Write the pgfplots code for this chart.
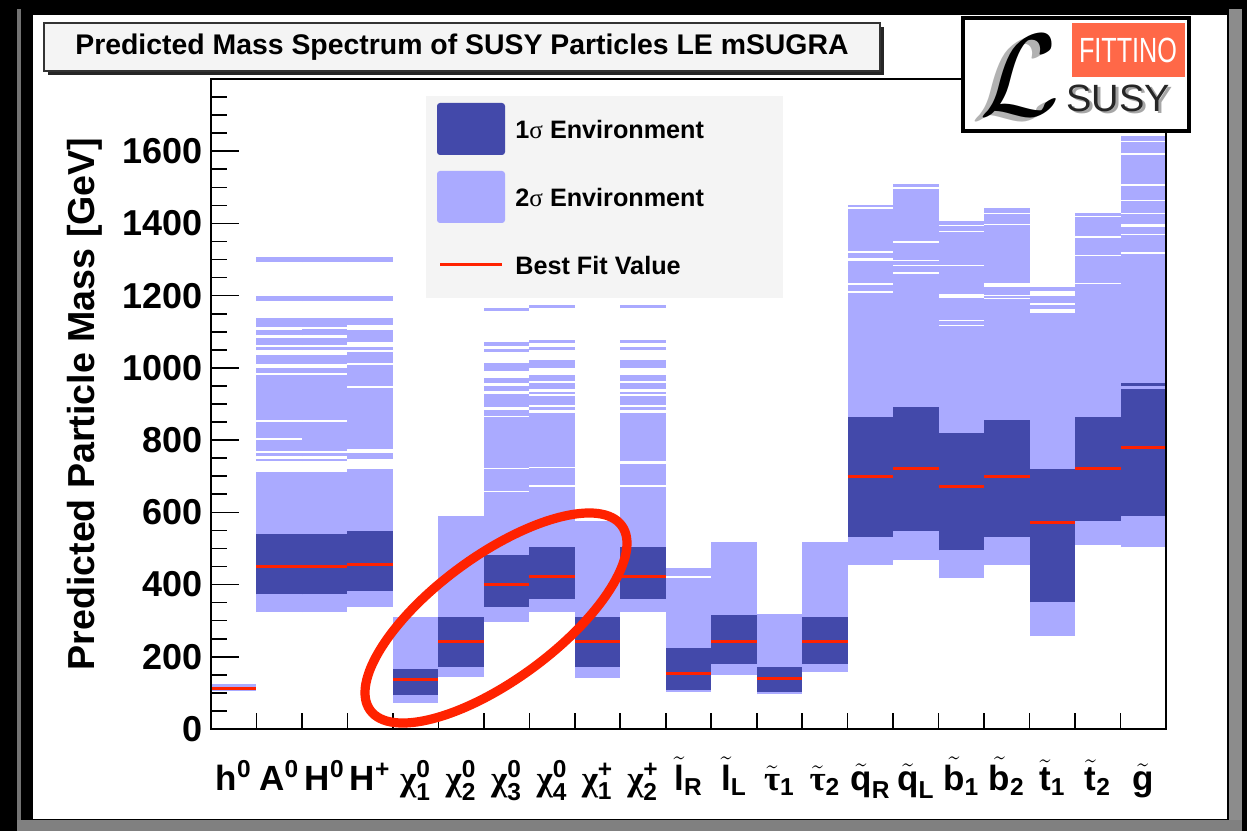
\documentclass[border=0pt]{standalone}
\usepackage{fontspec}
\setmainfont{Liberation Sans}
\newfontfamily\grk{Liberation Serif}
\usepackage{amsmath}
\usepackage{graphicx}
\usepackage{pgfplots}
\pgfplotsset{compat=1.18}
\usetikzlibrary{decorations.pathmorphing}

\definecolor{sigone}{RGB}{67,73,170}
\definecolor{sigtwo}{RGB}{170,170,255}
\definecolor{bestfit}{RGB}{255,34,0}
\definecolor{panelgray}{RGB}{244,244,244}
\definecolor{fittino}{RGB}{255,104,72}

% tick label helpers
\newcommand{\bsf}[1]{\text{\bfseries #1}}
\newcommand{\chiino}[2]{$\text{\grk χ}^{\bsf{#1}}_{\bsf{#2}}$}
\newcommand{\sferm}[2]{$\tilde{\bsf{#1}}_{\bsf{#2}}$}
\newcommand{\stau}[1]{$\tilde{\text{\grk τ}}_{\bsf{#1}}$}

% best fit masses [GeV], one per particle (bin i spans i..i+1)
\pgfplotstableread{
x   m
0   112
1   451
2   451
3   456
4   136
5   242
6   400
7   421
8   242
9   421
10  154
11  241
12  141
13  241
14  700
15  722
16  672
17  700
18  573
19  722
20  779
21  779
}\bestfit

\begin{document}
\begin{tikzpicture}[x=0.5pt,y=0.5pt]
\useasboundingbox (0,0) rectangle (1247,831);
% frame
\fill[black] (0,0) rectangle (1247,831);
\fill[black!55] (17,0) rectangle (21,822);
\fill[black!45] (1229,0) rectangle (1242,822);
\fill[black!50] (17,0) rectangle (1242,11);
\fill[white] (33,12) rectangle (1227,816);

\begin{axis}[
  at={(105.5pt,51pt)}, anchor=south west,
  scale only axis, width=477.5pt, height=325pt,
  xmin=0, xmax=21, ymin=0, ymax=1800,
  unbounded coords=jump,
  axis on top,
  axis line style={line width=1pt},
  every tick/.style={black, line width=0.8pt},
  every major x tick/.append style={draw opacity=0},
  tick align=inside,
  xtick pos=bottom, ytick pos=left,
  xtick={0.5,1.5,...,20.5},
  minor xtick={1,2,...,20},
  ytick={0,200,...,1600},
  minor ytick={50,100,...,1750},
  major tick length=14pt, minor tick length=8pt,
  /pgf/number format/assume math mode=true,
  /pgf/number format/1000 sep={},
  yticklabel style={font=\bfseries\fontsize{18}{20}\selectfont, anchor=east, inner sep=0pt, xshift=-4pt},
  xticklabel style={font=\bfseries\fontsize{17.5}{20}\selectfont, anchor=base, inner sep=0pt, yshift=-30.5pt},
  xticklabels={
    {h\textsuperscript{0}}, {A\textsuperscript{0}}, {H\textsuperscript{0}}, {H\textsuperscript{+}},
    {\chiino{0}{1}}, {\chiino{0}{2}}, {\chiino{0}{3}}, {\chiino{0}{4}},
    {\chiino{+}{1}}, {\chiino{+}{2}},
    {\sferm{l}{R}}, {\sferm{l}{L}}, {\stau{1}}, {\stau{2}},
    {\sferm{q}{R}}, {\sferm{q}{L}}, {\sferm{b}{1}}, {\sferm{b}{2}},
    {\sferm{t}{1}}, {\sferm{t}{2}}, {\sferm{g}{}}},
  ylabel={Predicted Particle Mass [GeV]},
  every axis y label/.style={at={(axis description cs:-0.132,0.5)}, rotate=90, anchor=center,
    font=\bfseries\fontsize{18.8}{22}\selectfont},
]
% 2 sigma environment: vertical strips (bin centre, lower, upper)
\addplot[sigtwo, line width=22.74pt, line cap=butt] coordinates {
 (0.5,106) (0.5,124) (0.5,nan)
 (1.5,324) (1.5,712) (1.5,nan) (1.5,742) (1.5,748) (1.5,nan) (1.5,755) (1.5,763) (1.5,nan)
 (1.5,770) (1.5,799) (1.5,nan) (1.5,805) (1.5,849) (1.5,nan) (1.5,855) (1.5,979) (1.5,nan)
 (1.5,986) (1.5,999) (1.5,nan) (1.5,1012) (1.5,1035) (1.5,nan) (1.5,1049) (1.5,1057) (1.5,nan)
 (1.5,1063) (1.5,1084) (1.5,nan) (1.5,1090) (1.5,1104) (1.5,nan) (1.5,1113) (1.5,1137) (1.5,nan)
 (1.5,1185) (1.5,1200) (1.5,nan) (1.5,1293) (1.5,1308) (1.5,nan)
 (2.5,324) (2.5,712) (2.5,nan) (2.5,742) (2.5,748) (2.5,nan) (2.5,755) (2.5,763) (2.5,nan)
 (2.5,770) (2.5,849) (2.5,nan) (2.5,855) (2.5,979) (2.5,nan)
 (2.5,986) (2.5,999) (2.5,nan) (2.5,1012) (2.5,1035) (2.5,nan) (2.5,1049) (2.5,1057) (2.5,nan)
 (2.5,1063) (2.5,1084) (2.5,nan) (2.5,1090) (2.5,1108) (2.5,nan) (2.5,1113) (2.5,1137) (2.5,nan)
 (2.5,1185) (2.5,1200) (2.5,nan) (2.5,1293) (2.5,1308) (2.5,nan)
 (3.5,338) (3.5,719) (3.5,nan) (3.5,748) (3.5,764) (3.5,nan) (3.5,775) (3.5,944) (3.5,nan)
 (3.5,949) (3.5,1007) (3.5,nan) (3.5,1013) (3.5,1043) (3.5,nan) (3.5,1049) (3.5,1057) (3.5,nan)
 (3.5,1071) (3.5,1106) (3.5,nan) (3.5,1120) (3.5,1137) (3.5,nan) (3.5,1185) (3.5,1200) (3.5,nan)
 (3.5,1293) (3.5,1308) (3.5,nan)
 (4.5,73) (4.5,311) (4.5,nan)
 (5.5,145) (5.5,589) (5.5,nan)
 (6.5,297) (6.5,655) (6.5,nan) (6.5,659) (6.5,719) (6.5,nan) (6.5,724) (6.5,864) (6.5,nan)
 (6.5,868) (6.5,884) (6.5,nan) (6.5,892) (6.5,927) (6.5,nan) (6.5,935) (6.5,949) (6.5,nan)
 (6.5,958) (6.5,972) (6.5,nan) (6.5,991) (6.5,1013) (6.5,nan) (6.5,1044) (6.5,1051) (6.5,nan)
 (6.5,1062) (6.5,1071) (6.5,nan) (6.5,1157) (6.5,1165) (6.5,nan)
 (7.5,324) (7.5,670) (7.5,nan) (7.5,676) (7.5,722) (7.5,nan) (7.5,726) (7.5,876) (7.5,nan)
 (7.5,883) (7.5,891) (7.5,nan) (7.5,897) (7.5,921) (7.5,nan) (7.5,928) (7.5,934) (7.5,nan)
 (7.5,941) (7.5,957) (7.5,nan) (7.5,963) (7.5,979) (7.5,nan) (7.5,999) (7.5,1021) (7.5,nan)
 (7.5,1050) (7.5,1057) (7.5,nan) (7.5,1070) (7.5,1078) (7.5,nan) (7.5,1165) (7.5,1173) (7.5,nan)
 (8.5,140) (8.5,575) (8.5,nan)
 (9.5,324) (9.5,669) (9.5,nan) (9.5,676) (9.5,733) (9.5,nan) (9.5,741) (9.5,876) (9.5,nan)
 (9.5,883) (9.5,891) (9.5,nan) (9.5,897) (9.5,921) (9.5,nan) (9.5,928) (9.5,934) (9.5,nan)
 (9.5,941) (9.5,957) (9.5,nan) (9.5,963) (9.5,979) (9.5,nan) (9.5,999) (9.5,1021) (9.5,nan)
 (9.5,1050) (9.5,1057) (9.5,nan) (9.5,1070) (9.5,1078) (9.5,nan) (9.5,1165) (9.5,1173) (9.5,nan)
 (10.5,103) (10.5,419) (10.5,nan) (10.5,423) (10.5,447) (10.5,nan)
 (11.5,149) (11.5,517) (11.5,nan)
 (12.5,96) (12.5,318) (12.5,nan)
 (13.5,158) (13.5,517) (13.5,nan)
 (14.5,454) (14.5,1208) (14.5,nan) (14.5,1214) (14.5,1230) (14.5,nan) (14.5,1236) (14.5,1297) (14.5,nan)
 (14.5,1303) (14.5,1317) (14.5,nan) (14.5,1324) (14.5,1440) (14.5,nan) (14.5,1445) (14.5,1452) (14.5,nan)
 (15.5,467) (15.5,1260) (15.5,nan) (15.5,1265) (15.5,1281) (15.5,nan) (15.5,1286) (15.5,1295) (15.5,nan)
 (15.5,1300) (15.5,1346) (15.5,nan) (15.5,1351) (15.5,1496) (15.5,nan) (15.5,1500) (15.5,1508) (15.5,nan)
 (16.5,417) (16.5,1115) (16.5,nan) (16.5,1119) (16.5,1129) (16.5,nan) (16.5,1133) (16.5,1193) (16.5,nan)
 (16.5,1206) (16.5,1281) (16.5,nan) (16.5,1286) (16.5,1375) (16.5,nan) (16.5,1379) (16.5,1392) (16.5,nan)
 (16.5,1396) (16.5,1408) (16.5,nan)
 (17.5,454) (17.5,1190) (17.5,nan) (17.5,1194) (17.5,1198) (17.5,nan) (17.5,1202) (17.5,1224) (17.5,nan)
 (17.5,1236) (17.5,1395) (17.5,nan) (17.5,1399) (17.5,1425) (17.5,nan) (17.5,1429) (17.5,1444) (17.5,nan)
 (18.5,257) (18.5,1152) (18.5,nan) (18.5,1163) (18.5,1175) (18.5,nan) (18.5,1179) (18.5,1200) (18.5,nan)
 (18.5,1212) (18.5,1224) (18.5,nan)
 (19.5,509) (19.5,1231) (19.5,nan) (19.5,1235) (19.5,1309) (19.5,nan) (19.5,1313) (19.5,1360) (19.5,nan)
 (19.5,1364) (19.5,1418) (19.5,nan) (19.5,1422) (19.5,1430) (19.5,nan)
 (20.5,504) (20.5,1316) (20.5,nan) (20.5,1320) (20.5,1367) (20.5,nan) (20.5,1371) (20.5,1391) (20.5,nan)
 (20.5,1398) (20.5,1426) (20.5,nan) (20.5,1430) (20.5,1461) (20.5,nan) (20.5,1465) (20.5,1504) (20.5,nan)
 (20.5,1508) (20.5,1590) (20.5,nan) (20.5,1594) (20.5,1625) (20.5,nan) (20.5,1629) (20.5,1643) (20.5,nan)
};
% 1 sigma environment
\addplot[sigone, line width=22.74pt, line cap=butt] coordinates {
 (0.5,110) (0.5,114) (0.5,nan)
 (1.5,373) (1.5,539) (1.5,nan)
 (2.5,373) (2.5,539) (2.5,nan)
 (3.5,382) (3.5,548) (3.5,nan)
 (4.5,94) (4.5,166) (4.5,nan)
 (5.5,172) (5.5,311) (5.5,nan)
 (6.5,338) (6.5,481) (6.5,nan)
 (7.5,361) (7.5,504) (7.5,nan)
 (8.5,172) (8.5,311) (8.5,nan)
 (9.5,361) (9.5,504) (9.5,nan)
 (10.5,108) (10.5,224) (10.5,nan)
 (11.5,180) (11.5,315) (11.5,nan)
 (12.5,102) (12.5,171) (12.5,nan)
 (13.5,180) (13.5,310) (13.5,nan)
 (14.5,532) (14.5,863) (14.5,nan)
 (15.5,548) (15.5,891) (15.5,nan)
 (16.5,495) (16.5,819) (16.5,nan)
 (17.5,532) (17.5,855) (17.5,nan)
 (18.5,351) (18.5,719) (18.5,nan)
 (19.5,576) (19.5,863) (19.5,nan)
 (20.5,589) (20.5,941) (20.5,nan) (20.5,949) (20.5,957) (20.5,nan)
};
% best fit values
\addplot[bestfit, line width=1.5pt, jump mark left] table[x=x, y=m] {\bestfit};
\end{axis}

% title box
\fill[black!85] (48,756) rectangle (884,804);
\filldraw[fill=panelgray, draw=black!80, line width=0.6pt] (44,760) rectangle (880,808);
\node[font=\bfseries\fontsize{14.2}{16}\selectfont] at (462,784) {Predicted Mass Spectrum of SUSY Particles LE mSUGRA};

% legend
\fill[panelgray] (426,533) rectangle (783,735);
\fill[sigone, rounded corners=1.5pt] (437,676) rectangle (505,728);
\fill[sigtwo, rounded corners=1.5pt] (437,608) rectangle (505,660);
\draw[bestfit, line width=1.5pt] (440,566) -- (502,566);
\begin{scope}[every node/.style={anchor=west, inner sep=0pt, font=\bfseries\fontsize{12.6}{15}\selectfont}]
\node at (515,702) {1{\mdseries\grk σ} Environment};
\node at (515,634) {2{\mdseries\grk σ} Environment};
\node at (515,566) {Best Fit Value};
\end{scope}

% logo
\filldraw[fill=white, draw=black, line width=2pt] (963,700) rectangle (1189,813);
\fill[fittino] (1072,754) rectangle (1185,808);
\node[text=white, inner sep=0pt] at (1128,781) {\scalebox{0.72}[1]{\fontsize{17.5}{18}\selectfont FITTINO}};
\node[text=black!30, inner sep=0pt] at (1012,752) {\resizebox{!}{40pt}{$\mathcal{L}$}};
\node[text=black, inner sep=0pt] at (1020,756) {\resizebox{!}{40pt}{$\mathcal{L}$}};
\node[text=black!35, inner sep=0pt] at (1121,731) {\fontsize{19}{20}\selectfont SUSY};
\node[text=black!85, inner sep=0pt] at (1118,733) {\fontsize{19}{20}\selectfont SUSY};

% highlighted neutralino/chargino group
\draw[bestfit, line width=4.6pt, rotate around={36.3:(496,213)}] (496,213) ellipse [x radius=156, y radius=62];
\draw[bestfit, line width=1.6pt, rotate around={36.3:(496,213)},
  decoration={random steps, segment length=2.5pt, amplitude=1.2pt}, decorate] (496,213) ellipse [x radius=156, y radius=62];
\end{tikzpicture}
\end{document}
